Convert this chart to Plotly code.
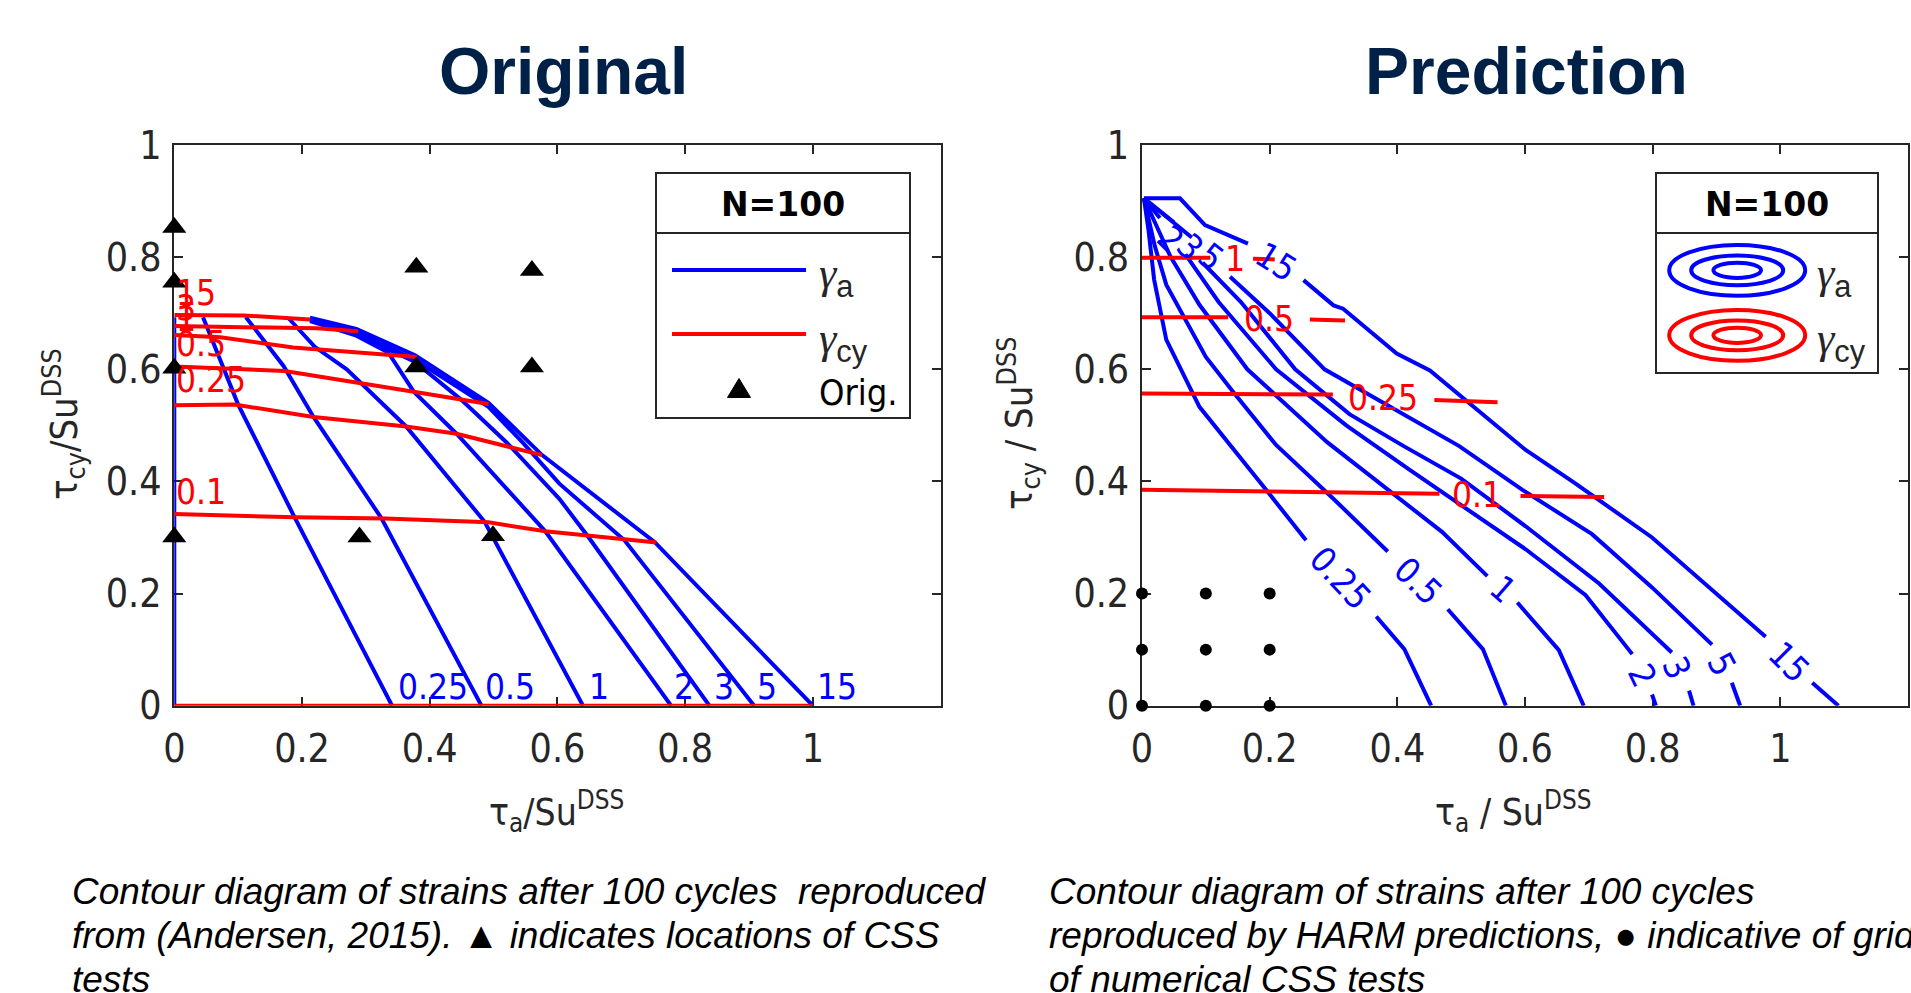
import plotly.graph_objects as go

W, H = 1911, 993
BLUE = "#0000FF"
RED = "#FF0000"
AX = "#262626"
NAVY = "#002147"
SANS = "DejaVu Sans Condensed, Liberation Sans, Arial, sans-serif"
ARIAL = "Liberation Sans, Arial, sans-serif"

# ---------------- Original (left panel) : gamma_a contours (blue) ----------------
orig_ga0_x = [0.0, 0.0]
orig_ga0_y = [0.0, 0.693]
orig_ga025_x = [0.045, 0.100, 0.187, 0.341]
orig_ga025_y = [0.693, 0.537, 0.339, 0.0]
orig_ga05_x = [0.112, 0.171, 0.218, 0.324, 0.481]
orig_ga05_y = [0.693, 0.606, 0.515, 0.335, 0.0]
orig_ga1_x = [0.179, 0.220, 0.270, 0.363, 0.486, 0.640]
orig_ga1_y = [0.691, 0.640, 0.600, 0.498, 0.328, 0.0]
orig_ga2_x = [0.2125, 0.285, 0.335, 0.375, 0.442, 0.581, 0.778]
orig_ga2_y = [0.686, 0.660, 0.630, 0.560, 0.485, 0.311, 0.0]
orig_ga3_x = [0.2125, 0.285, 0.377, 0.450, 0.520, 0.603, 0.649, 0.838]
orig_ga3_y = [0.689, 0.663, 0.613, 0.545, 0.470, 0.369, 0.300, 0.0]
orig_ga5_x = [0.2125, 0.285, 0.377, 0.492, 0.545, 0.603, 0.705, 0.908]
orig_ga5_y = [0.689, 0.667, 0.617, 0.533, 0.470, 0.396, 0.295, 0.0]
orig_ga15_x = [0.2125, 0.285, 0.377, 0.492, 0.576, 0.752, 1.0]
orig_ga15_y = [0.692, 0.672, 0.625, 0.540, 0.447, 0.292, 0.0]

# gamma_cy contours (red)
orig_gcy0_x = [0.0, 1.0]
orig_gcy0_y = [0.0, 0.0]
orig_gcy01_x = [0.0, 0.190, 0.330, 0.492, 0.581, 0.755]
orig_gcy01_y = [0.342, 0.336, 0.334, 0.327, 0.311, 0.291]
orig_gcy025_x = [0.0, 0.095, 0.218, 0.363, 0.442, 0.576]
orig_gcy025_y = [0.536, 0.537, 0.515, 0.498, 0.485, 0.447]
orig_gcy05_x = [0.0, 0.173, 0.375, 0.492]
orig_gcy05_y = [0.605, 0.597, 0.560, 0.538]
orig_gcy1_x = [0.0, 0.072, 0.186, 0.380]
orig_gcy1_y = [0.661, 0.657, 0.639, 0.622]
orig_gcy3_x = [0.0, 0.223, 0.288]
orig_gcy3_y = [0.677, 0.673, 0.668]
orig_gcy15_x = [0.0, 0.108, 0.2125]
orig_gcy15_y = [0.697, 0.696, 0.689]

# contour labels
orig_ga_lab = ["0.25", "0.5", "1", "2", "3", "5", "15"]
orig_ga_lab_x = [0.347, 0.484, 0.647, 0.780, 0.842, 0.910, 1.004]
orig_ga_lab_y = [0.034, 0.034, 0.034, 0.034, 0.034, 0.034, 0.034]
orig_gcy_lab = ["15", "3", "1", "0.5", "0.25", "0.1"]
orig_gcy_lab_x = [0.0, 0.0, 0.0, 0.0, 0.0, 0.0]
orig_gcy_lab_y = [0.736, 0.709, 0.690, 0.645, 0.581, 0.382]

# CSS test locations (triangles)
orig_test_x = [0.0, 0.0, 0.0, 0.0, 0.379, 0.560, 0.379, 0.560, 0.290, 0.499]
orig_test_y = [0.853, 0.755, 0.602, 0.301, 0.782, 0.776, 0.604, 0.604, 0.301, 0.303]

# ---------------- Prediction (right panel) ----------------
pred_ga025_x = [0.003, 0.010, 0.019, 0.038, 0.090, 0.142, 0.200, 0.257, None, 0.367, 0.411, 0.453]
pred_ga025_y = [0.905, 0.850, 0.760, 0.653, 0.533, 0.458, 0.377, 0.295, None, 0.159, 0.101, 0.0]
pred_ga05_x = [0.003, 0.020, 0.038, 0.100, 0.142, 0.210, 0.299, 0.385, None, 0.479, 0.534, 0.570]
pred_ga05_y = [0.905, 0.820, 0.751, 0.622, 0.561, 0.465, 0.370, 0.275, None, 0.172, 0.101, 0.0]
pred_ga1_x = [0.003, 0.045, 0.090, 0.165, 0.290, 0.404, 0.470, 0.541, None, 0.588, 0.653, 0.692]
pred_ga1_y = [0.905, 0.800, 0.715, 0.600, 0.470, 0.370, 0.310, 0.231, None, 0.184, 0.099, 0.0]
pred_ga2_x = [0.003, 0.028, None, 0.068, 0.120, 0.210, 0.320, 0.420, 0.510, 0.601, 0.695, 0.768, None, 0.799, 0.805]
pred_ga2_y = [0.905, 0.870, None, 0.805, 0.720, 0.600, 0.500, 0.420, 0.350, 0.279, 0.197, 0.092, None, 0.020, 0.0]
pred_ga3_x = [0.003, 0.050, None, 0.095, 0.155, 0.240, 0.325, 0.410, 0.500, 0.601, 0.716, 0.830, None, 0.857, 0.864]
pred_ga3_y = [0.905, 0.862, None, 0.790, 0.720, 0.600, 0.520, 0.463, 0.405, 0.320, 0.218, 0.095, None, 0.027, 0.0]
pred_ga5_x = [0.003, 0.078, None, 0.138, 0.200, 0.286, 0.403, 0.497, 0.596, 0.705, 0.799, 0.893, None, 0.924, 0.937]
pred_ga5_y = [0.905, 0.835, None, 0.765, 0.700, 0.600, 0.524, 0.463, 0.385, 0.306, 0.211, 0.109, None, 0.041, 0.0]
pred_ga15_x = [0.003, 0.0595, 0.0987, 0.166, None, 0.253, 0.300, 0.315, 0.399, 0.451, 0.559, 0.601, 0.677,
               0.799, 0.977, None, 1.050, 1.091]
pred_ga15_y = [0.905, 0.905, 0.857, 0.824, None, 0.759, 0.714, 0.708, 0.628, 0.598, 0.497, 0.456, 0.398,
               0.300, 0.123, None, 0.041, 0.0]

pred_gcy1_x = [0.0, 0.107, None, 0.174, 0.208]
pred_gcy1_y = [0.799, 0.799, None, 0.797, 0.796]
pred_gcy05_x = [0.0, 0.135, None, 0.263, 0.318]
pred_gcy05_y = [0.693, 0.693, None, 0.689, 0.687]
pred_gcy025_x = [0.0, 0.299, None, 0.458, 0.557]
pred_gcy025_y = [0.557, 0.555, None, 0.545, 0.541]
pred_gcy01_x = [0.0, 0.466, None, 0.593, 0.724]
pred_gcy01_y = [0.385, 0.378, None, 0.374, 0.372]

pred_ga_lab = ["0.25", "0.5", "1", "2", "3", "5", "15", "2", "3", "5", "15"]
pred_ga_lab_x = [0.310, 0.432, 0.565, 0.783, 0.838, 0.908, 1.013, 0.045, 0.075, 0.108, 0.210]
pred_ga_lab_y = [0.227, 0.222, 0.208, 0.054, 0.068, 0.075, 0.078, 0.833, 0.818, 0.800, 0.791]
pred_ga_lab_ang = [47, 44, 41, 64, 66, 62, 45, 45, 45, 38, 32]
pred_gcy_lab = ["1", "0.5", "0.25", "0.1"]
pred_gcy_lab_x = [0.146, 0.199, 0.378, 0.525]
pred_gcy_lab_y = [0.797, 0.690, 0.549, 0.376]

pred_grid_x = [0.0, 0.1, 0.2, 0.0, 0.1, 0.2, 0.0, 0.1, 0.2]
pred_grid_y = [0.0, 0.0, 0.0, 0.1, 0.1, 0.1, 0.2, 0.2, 0.2]

tick_vals = [0, 0.2, 0.4, 0.6, 0.8, 1]
tick_text = ["0", "0.2", "0.4", "0.6", "0.8", "1"]

left_caption = ["Contour diagram of strains after 100 cycles \u00a0reproduced",
                "from (Andersen, 2015). \u25b2 indicates locations of CSS",
                "tests"]
right_caption = ["Contour diagram of strains after 100 cycles",
                 "reproduced by HARM predictions, \u25cf indicative of grid",
                 "of numerical CSS tests"]


def px(x):
    return x / W


def py(y):
    return 1 - y / H


fig = go.Figure()


def add_line(xs, ys, color, ax):
    fig.add_trace(go.Scatter(x=xs, y=ys, mode="lines", line=dict(color=color, width=4),
                             xaxis="x" if ax == 1 else "x2", yaxis="y" if ax == 1 else "y2",
                             cliponaxis=False, hoverinfo="skip", showlegend=False))


for xs, ys in [(orig_ga0_x, orig_ga0_y), (orig_ga025_x, orig_ga025_y), (orig_ga05_x, orig_ga05_y),
               (orig_ga1_x, orig_ga1_y), (orig_ga2_x, orig_ga2_y), (orig_ga3_x, orig_ga3_y),
               (orig_ga5_x, orig_ga5_y), (orig_ga15_x, orig_ga15_y)]:
    add_line(xs, ys, BLUE, 1)
for xs, ys in [(orig_gcy0_x, orig_gcy0_y), (orig_gcy01_x, orig_gcy01_y), (orig_gcy025_x, orig_gcy025_y),
               (orig_gcy05_x, orig_gcy05_y), (orig_gcy1_x, orig_gcy1_y), (orig_gcy3_x, orig_gcy3_y),
               (orig_gcy15_x, orig_gcy15_y)]:
    add_line(xs, ys, RED, 1)
fig.add_trace(go.Scatter(x=orig_test_x, y=orig_test_y, mode="markers", xaxis="x", yaxis="y",
                         marker=dict(symbol="triangle-up", size=21, color="black"),
                         cliponaxis=False, hoverinfo="skip", showlegend=False))

for xs, ys in [(pred_ga025_x, pred_ga025_y), (pred_ga05_x, pred_ga05_y), (pred_ga1_x, pred_ga1_y),
               (pred_ga2_x, pred_ga2_y), (pred_ga3_x, pred_ga3_y), (pred_ga5_x, pred_ga5_y),
               (pred_ga15_x, pred_ga15_y)]:
    add_line(xs, ys, BLUE, 2)
for xs, ys in [(pred_gcy1_x, pred_gcy1_y), (pred_gcy05_x, pred_gcy05_y), (pred_gcy025_x, pred_gcy025_y),
               (pred_gcy01_x, pred_gcy01_y)]:
    add_line(xs, ys, RED, 2)
fig.add_trace(go.Scatter(x=pred_grid_x, y=pred_grid_y, mode="markers", xaxis="x2", yaxis="y2",
                         marker=dict(symbol="circle", size=12, color="black"),
                         cliponaxis=False, hoverinfo="skip", showlegend=False))

ann = []


def text(x, y, t, size, color="black", family=SANS, xref="paper", yref="paper", xa="center", ya="middle", angle=0):
    ann.append(dict(x=x, y=y, xref=xref, yref=yref, text=t, showarrow=False, xanchor=xa, yanchor=ya,
                    textangle=angle, font=dict(size=size, color=color, family=family)))


for t, x, y in zip(orig_ga_lab, orig_ga_lab_x, orig_ga_lab_y):
    text(x, y, t, 35, BLUE, xref="x", yref="y", xa="left")
for t, x, y in zip(orig_gcy_lab, orig_gcy_lab_x, orig_gcy_lab_y):
    text(x, y, t, 35, RED, xref="x", yref="y", xa="left")
for t, x, y, a in zip(pred_ga_lab, pred_ga_lab_x, pred_ga_lab_y, pred_ga_lab_ang):
    text(x, y, t, 35, BLUE, xref="x2", yref="y2", angle=a)
for t, x, y in zip(pred_gcy_lab, pred_gcy_lab_x, pred_gcy_lab_y):
    text(x, y, t, 35, RED, xref="x2", yref="y2")

# titles
text(px(563), py(71), "<b>Original</b>", 66, NAVY, ARIAL)
text(px(1526), py(71), "<b>Prediction</b>", 66, NAVY, ARIAL)

# axis titles
text(px(64), py(424), "\u03c4<sub>cy</sub>/Su<sup>DSS</sup>", 38, AX, angle=-90)
text(px(1019), py(424), "\u03c4<sub>cy</sub> / Su<sup>DSS</sup>", 38, AX, angle=-90)
text(px(556), py(811), "\u03c4<sub>a</sub>/Su<sup>DSS</sup>", 37, AX)
text(px(1513), py(811), "\u03c4<sub>a</sub> / Su<sup>DSS</sup>", 37, AX)

# captions
for i, line in enumerate(left_caption):
    text(px(69.5), py(891 + 44 * i), "<i>" + line + "</i>", 37, "black", ARIAL, xa="left")
for i, line in enumerate(right_caption):
    text(px(1047), py(891 + 44 * i), "<i>" + line + "</i>", 37, "black", ARIAL, xa="left")

# ---- custom legends ----
shapes = []
GAMMA = "<span style=\"font-family:Liberation Serif\"><i>\u03b3</i></span>"


def legend_box(x0, x1, y0, y1, ysep):
    shapes.append(dict(type="rect", xref="paper", yref="paper", x0=px(x0), x1=px(x1), y0=py(y1), y1=py(y0),
                       line=dict(color=AX, width=2), fillcolor="white", layer="above"))
    shapes.append(dict(type="line", xref="paper", yref="paper", x0=px(x0), x1=px(x1), y0=py(ysep), y1=py(ysep),
                       line=dict(color=AX, width=2), layer="above"))
    text(px((x0 + x1) / 2), py(205), "<b>N=100</b>", 33, "black", "DejaVu Sans, sans-serif")


legend_box(656, 910, 173, 418, 233)
for yy, col in [(270, BLUE), (334, RED)]:
    shapes.append(dict(type="line", xref="paper", yref="paper", x0=px(672), x1=px(806), y0=py(yy), y1=py(yy),
                       line=dict(color=col, width=4), layer="above"))
shapes.append(dict(type="path", xref="paper", yref="paper", layer="above",
                   path="M %f %f L %f %f L %f %f Z" % (px(727.5), py(397.5), px(750.5), py(397.5), px(739), py(378.5)),
                   fillcolor="black", line=dict(color="black", width=1)))
text(px(817), py(277), GAMMA + "<sub>a</sub>", 44, AX, ARIAL, xa="left")
text(px(817), py(341), GAMMA + "<sub>cy</sub>", 44, AX, ARIAL, xa="left")
text(px(817), py(392), "Orig.", 36, "black", SANS, xa="left")

legend_box(1656, 1878, 173, 373, 233)
for cy, col in [(270.3, BLUE), (335.3, RED)]:
    for a, b in [(68, 25.4), (46, 14.9), (23.8, 7.6)]:
        shapes.append(dict(type="circle", xref="paper", yref="paper", layer="above",
                           x0=px(1737.2 - a), x1=px(1737.2 + a), y0=py(cy + b), y1=py(cy - b),
                           line=dict(color=col, width=4)))
text(px(1815), py(277), GAMMA + "<sub>a</sub>", 44, AX, ARIAL, xa="left")
text(px(1815), py(341), GAMMA + "<sub>cy</sub>", 44, AX, ARIAL, xa="left")

axis_common = dict(showline=True, linecolor=AX, linewidth=2, mirror="ticks", ticks="inside", ticklen=9,
                   tickwidth=2, tickcolor=AX, showgrid=False, zeroline=False, layer="below traces",
                   automargin=False,
                   tickfont=dict(family=SANS, size=39, color=AX), tickvals=tick_vals, ticktext=tick_text)

fig.update_layout(
    width=W, height=H, margin=dict(l=0, r=0, t=0, b=0, pad=0, autoexpand=False),
    paper_bgcolor="white", plot_bgcolor="white", showlegend=False,
    xaxis=dict(domain=[px(174.3), px(940.6)], anchor="y", range=[0, 1.2], ticklabelstandoff=7, **axis_common),
    yaxis=dict(domain=[py(705.7), py(145)], anchor="x", range=[0, 1], ticklabelstandoff=3, **axis_common),
    xaxis2=dict(domain=[px(1142), px(1908)], anchor="y2", range=[0, 1.2], ticklabelstandoff=7, **axis_common),
    yaxis2=dict(domain=[py(705.7), py(145)], anchor="x2", range=[0, 1], ticklabelstandoff=3, **axis_common),
    annotations=ann, shapes=shapes,
)

fig.write_html("out.html", config={"displayModeBar": False},
               post_script="document.body.style.margin='0';document.body.style.overflow='hidden';")
